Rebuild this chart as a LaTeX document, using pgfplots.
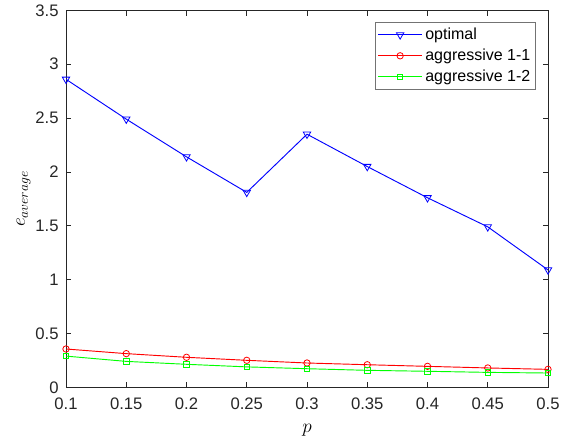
\documentclass[border=0pt]{standalone}
\usepackage{pgfplots}
\pgfplotsset{compat=1.18}
\usepackage{fontspec}
\setmainfont{Liberation Sans}
\definecolor{axgray}{rgb}{0.15,0.15,0.15}
\definecolor{legframe}{rgb}{0.45,0.45,0.45}
\begin{document}
\begin{tikzpicture}
\begin{axis}[
  scale only axis,
  width=361.5pt, height=282.75pt,
  xmin=0.1, xmax=0.5, ymin=0, ymax=3.5,
  xtick={0.1,0.15,...,0.5},
  ytick={0,0.5,...,3.5},
  xticklabels={0.1,0.15,0.2,0.25,0.3,0.35,0.4,0.45,0.5},
  yticklabels={0,0.5,1,1.5,2,2.5,3,3.5},
  tick align=inside,
  major tick length=4pt,
  axis line style={axgray, line width=0.5pt},
  every tick/.style={axgray, line width=0.5pt},
  tick label style={font=\fontsize{12.5}{14}\selectfont, text=axgray},
  xticklabel style={yshift=-4.5pt},
  yticklabel style={xshift=-2pt},
  /pgf/number format/assume math mode=true,
  xlabel={$p$}, ylabel={$e_{average}$},
  every axis x label/.style={at={(axis description cs:0.5,-0.113)}, anchor=center, font=\fontsize{14.5}{16}\selectfont},
  every axis y label/.style={at={(axis description cs:-0.088,0.5)}, anchor=center, rotate=90, font=\fontsize{14.5}{16}\selectfont},
  legend style={at={(0.975,0.968)}, anchor=north east, draw=legframe, line width=0.5pt,
    font=\fontsize{12}{14}\selectfont, row sep=1.5pt, inner sep=2pt},
  legend cell align=left,
  legend image code/.code={
    \draw[#1, line width=0.8pt, mark repeat=2, mark phase=2] plot coordinates {(0cm,0cm) (0.58cm,0cm) (1.16cm,0cm)};
  },
]
\addplot[color=blue, line width=0.7pt, mark=triangle, mark options={rotate=180, solid, fill=none, scale=1.6, line width=0.6pt}]
coordinates {(0.1,2.86) (0.15,2.49) (0.2,2.14) (0.25,1.81) (0.3,2.35) (0.35,2.05) (0.4,1.76) (0.45,1.49) (0.5,1.09)};
\addlegendentry{optimal}
\addplot[color=red, line width=0.7pt, mark=o, mark options={solid, fill=none, scale=1.2, line width=0.6pt}]
coordinates {(0.1,0.356) (0.15,0.313) (0.2,0.279) (0.25,0.251) (0.3,0.226) (0.35,0.21) (0.4,0.195) (0.45,0.18) (0.5,0.167)};
\addlegendentry{aggressive 1-1}
\addplot[color=green, line width=0.7pt, mark=square, mark options={solid, fill=none, scale=1.0, line width=0.6pt}]
coordinates {(0.1,0.29) (0.15,0.241) (0.2,0.214) (0.25,0.19) (0.3,0.173) (0.35,0.158) (0.4,0.149) (0.45,0.139) (0.5,0.133)};
\addlegendentry{aggressive 1-2}
\end{axis}
\path ([xshift=-49.5pt,yshift=-43.5pt]current axis.south west) rectangle ([xshift=13.5pt,yshift=7.5pt]current axis.north east);
\end{tikzpicture}
\end{document}
